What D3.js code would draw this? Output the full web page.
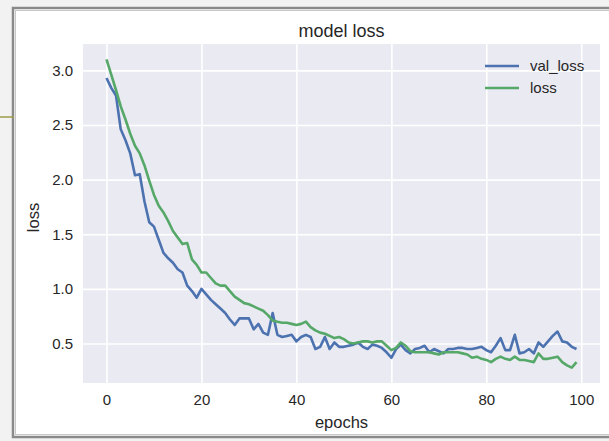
<!DOCTYPE html>
<html lang="en">
<head>
<meta charset="utf-8">
<title>model loss</title>
<script src="https://cdn.jsdelivr.net/npm/d3@7"></script>
<style>
  body { margin: 0; background: #f2f2f2; }
  svg text { font-family: "Liberation Sans", Arial, sans-serif; fill: #262626; }
</style>
</head>
<body>
<script>
// values, one per epoch (0..99)
var valLoss = [2.93, 2.84, 2.77, 2.46, 2.36, 2.24, 2.04, 2.05, 1.80, 1.61,
               1.57, 1.45, 1.33, 1.28, 1.24, 1.18, 1.15, 1.03, 0.98, 0.92,
               1.00, 0.95, 0.90, 0.86, 0.82, 0.78, 0.72, 0.67, 0.73, 0.73,
               0.73, 0.63, 0.68, 0.60, 0.58, 0.78, 0.58, 0.56, 0.57, 0.58,
               0.52, 0.56, 0.58, 0.56, 0.45, 0.47, 0.56, 0.45, 0.51, 0.47,
               0.47, 0.48, 0.49, 0.51, 0.47, 0.45, 0.49, 0.48, 0.46, 0.42,
               0.37, 0.45, 0.49, 0.44, 0.41, 0.45, 0.46, 0.48, 0.42, 0.45,
               0.43, 0.41, 0.45, 0.45, 0.46, 0.46, 0.45, 0.45, 0.46, 0.47,
               0.44, 0.42, 0.48, 0.55, 0.44, 0.44, 0.58, 0.41, 0.42, 0.45,
               0.41, 0.51, 0.47, 0.52, 0.57, 0.61, 0.52, 0.51, 0.47, 0.45];

var loss = [3.10, 2.96, 2.82, 2.67, 2.55, 2.42, 2.31, 2.24, 2.13, 1.99,
            1.86, 1.76, 1.70, 1.62, 1.53, 1.47, 1.41, 1.42, 1.27, 1.22,
            1.15, 1.15, 1.10, 1.05, 1.03, 1.03, 0.98, 0.93, 0.90, 0.87,
            0.86, 0.84, 0.82, 0.80, 0.76, 0.71, 0.70, 0.69, 0.69, 0.68,
            0.67, 0.68, 0.70, 0.65, 0.62, 0.60, 0.59, 0.57, 0.55, 0.56,
            0.54, 0.51, 0.50, 0.51, 0.52, 0.52, 0.51, 0.52, 0.52, 0.48,
            0.44, 0.46, 0.51, 0.48, 0.43, 0.42, 0.42, 0.42, 0.42, 0.41,
            0.40, 0.42, 0.42, 0.42, 0.42, 0.41, 0.40, 0.37, 0.38, 0.36,
            0.35, 0.33, 0.36, 0.38, 0.36, 0.35, 0.38, 0.35, 0.35, 0.34,
            0.33, 0.41, 0.36, 0.36, 0.37, 0.38, 0.33, 0.30, 0.28, 0.33];

var seriesNames = ["val_loss", "loss"];
var seriesColors = ["#4c72b0", "#55a868"];
var xTicks = [0, 20, 40, 60, 80, 100];
var yTicks = [0.5, 1.0, 1.5, 2.0, 2.5, 3.0];

var w = 609, h = 441;
var plot = { left: 83, right: 600, top: 44, bottom: 383 };

var svg = d3.select("body").append("svg")
            .attr("width", w)
            .attr("height", h);

// screenshot frame around the figure
svg.append("rect").attr("x", 0).attr("y", 0).attr("width", w).attr("height", h).attr("fill", "#f2f2f2");
svg.append("rect").attr("x", 13).attr("y", 8).attr("width", w).attr("height", 429)
   .attr("fill", "#fff").attr("stroke", "#8a8a8a").attr("stroke-width", 2.5);
svg.append("rect").attr("x", 15.5).attr("y", 10.5).attr("width", w).attr("height", 424)
   .attr("fill", "none").attr("stroke", "#c8c8c8").attr("stroke-width", 1);
svg.append("line").attr("x1", 0).attr("x2", 14).attr("y1", 117).attr("y2", 117)
   .attr("stroke", "#9c9c48").attr("stroke-width", 1.5);

var n = loss.length;
var allVals = valLoss.concat(loss);
var lo = d3.min(allVals), hi = d3.max(allVals);
var padY = (hi - lo) * 0.05;
var padX = (n - 1) * 0.05;

var xScale = d3.scaleLinear()
               .domain([-padX, n - 1 + padX])
               .range([plot.left, plot.right]);
var yScale = d3.scaleLinear()
               .domain([lo - padY, hi + padY])
               .range([plot.bottom, plot.top]);

// axes background (seaborn darkgrid)
svg.append("rect")
   .attr("x", plot.left).attr("y", plot.top)
   .attr("width", plot.right - plot.left)
   .attr("height", plot.bottom - plot.top)
   .attr("fill", "#eaeaf2");

// grid lines
svg.append("g")
   .attr("transform", "translate(0," + plot.bottom + ")")
   .call(d3.axisBottom(xScale).tickValues(xTicks).tickSize(-(plot.bottom - plot.top)).tickFormat(""))
   .call(function(g) { g.select(".domain").remove(); })
   .selectAll("line").attr("stroke", "#fff").attr("stroke-width", 1.6);

svg.append("g")
   .attr("transform", "translate(" + plot.left + ",0)")
   .call(d3.axisLeft(yScale).tickValues(yTicks).tickSize(-(plot.right - plot.left)).tickFormat(""))
   .call(function(g) { g.select(".domain").remove(); })
   .selectAll("line").attr("stroke", "#fff").attr("stroke-width", 1.6);

// tick labels
var xAxis = svg.append("g")
   .attr("transform", "translate(0," + plot.bottom + ")")
   .call(d3.axisBottom(xScale).tickValues(xTicks).tickSize(0).tickPadding(11).tickFormat(d3.format("d")));
xAxis.select(".domain").remove();
xAxis.selectAll("text").attr("font-size", "15px").attr("font-family", null).attr("fill", "#262626");

var yAxis = svg.append("g")
   .attr("transform", "translate(" + plot.left + ",0)")
   .call(d3.axisLeft(yScale).tickValues(yTicks).tickSize(0).tickPadding(10).tickFormat(d3.format(".1f")));
yAxis.select(".domain").remove();
yAxis.selectAll("text").attr("font-size", "15px").attr("font-family", null).attr("fill", "#262626");

// lines
var line = d3.line()
             .x(function(d, i) { return xScale(i); })
             .y(function(d) { return yScale(d); });

[valLoss, loss].forEach(function(series, k) {
    svg.append("path")
       .datum(series)
       .attr("d", line)
       .attr("fill", "none")
       .attr("stroke", seriesColors[k])
       .attr("stroke-width", 2.6)
       .attr("stroke-linejoin", "round");
});

// title and axis labels
svg.append("text")
   .attr("x", (plot.left + plot.right) / 2)
   .attr("y", 37)
   .attr("text-anchor", "middle")
   .attr("font-size", "18px")
   .text("model loss");

svg.append("text")
   .attr("x", (plot.left + plot.right) / 2)
   .attr("y", 428)
   .attr("text-anchor", "middle")
   .attr("font-size", "16.5px")
   .text("epochs");

svg.append("text")
   .attr("transform", "translate(39," + ((plot.top + plot.bottom) / 2 + 4) + ") rotate(-90)")
   .attr("text-anchor", "middle")
   .attr("font-size", "16.5px")
   .text("loss");

// legend
var legend = svg.append("g").attr("transform", "translate(485,66)");
seriesNames.forEach(function(name, k) {
    legend.append("line")
          .attr("x1", 0).attr("x2", 34)
          .attr("y1", k * 22).attr("y2", k * 22)
          .attr("stroke", seriesColors[k])
          .attr("stroke-width", 2.6);
    legend.append("text")
          .attr("x", 45).attr("y", k * 22 + 5)
          .attr("font-size", "15px")
          .text(name);
});
</script>
</body>
</html>
